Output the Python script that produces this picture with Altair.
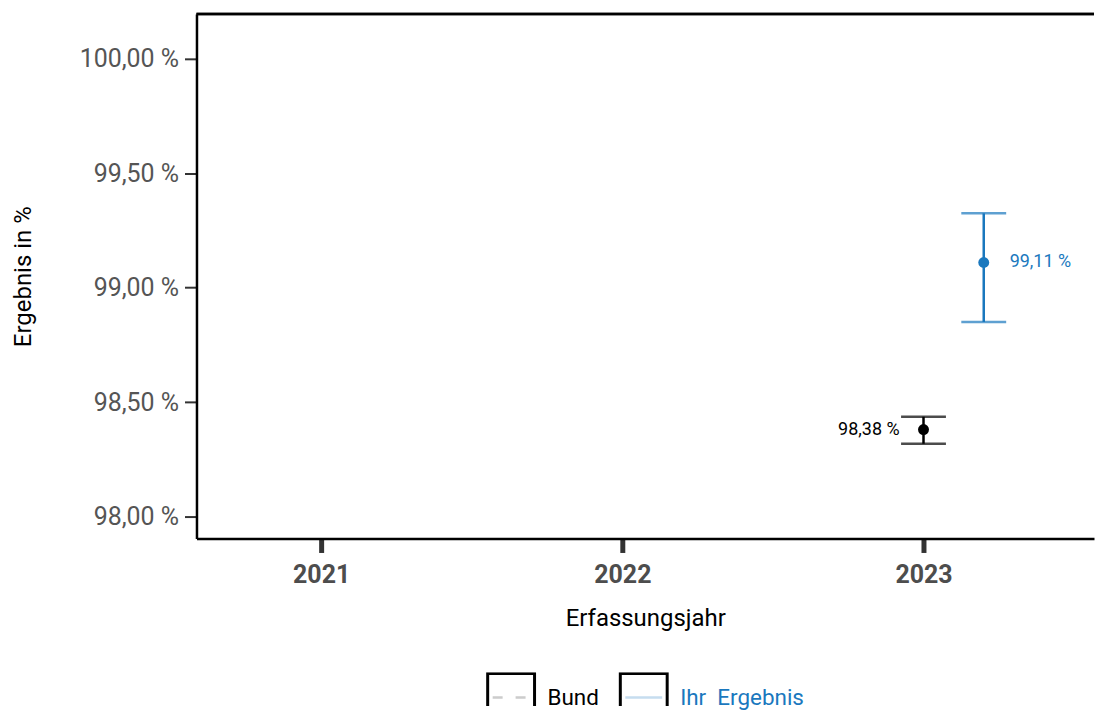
import altair as alt
import pandas as pd

# ---- data ----
series = ["Bund", "Ihr Ergebnis"]
years = [2023, 2023]
values = [98.38, 99.11]
lower = [98.318, 98.850]
upper = [98.436, 99.325]
series_colors = ["#000000", "#1a78be"]

legend_labels = ["Bund", "Ihr\u00a0 Ergebnis"]
legend_line_colors = ["#cccccc", "#c6ddef"]
legend_label_colors = ["#000000", "#1a78be"]

y_ticks = [98.0, 98.5, 99.0, 99.5, 100.0]
x_ticks = [2021, 2022, 2023]

W, H = 900, 526
FONT = "Roboto"

df = pd.DataFrame({"series": series, "year": years, "value": values,
                   "lower": lower, "upper": upper})
df["label"] = [f"{v:.2f}".replace(".", ",") + " %" for v in values]

base = alt.Chart(df).transform_calculate(
    xpos="datum.year + (datum.series === 'Ihr Ergebnis' ? 0.2 : 0)"
)

x_enc = alt.X("xpos:Q",
              scale=alt.Scale(domain=[2020.586, 2020.586 + W / 302.0], nice=False, zero=False),
              axis=alt.Axis(values=x_ticks, format="d", title="Erfassungsjahr",
                            labelFontSize=25, labelFontWeight="bold", labelColor="#4d4d4d",
                            labelFont=FONT, labelPadding=10,
                            tickSize=14, tickWidth=5, tickColor="#333333",
                            domainColor="#000000", domainWidth=2.5,
                            titleFont=FONT, titleFontSize=24, titleFontWeight="normal",
                            titleColor="#000000", titlePadding=19, grid=False))
y_scale = alt.Scale(domain=[97.904, 100.196], nice=False, zero=False)
y_axis = alt.Axis(values=y_ticks,
                  labelExpr="replace(format(datum.value, '.2f'), '.', ',') + ' %'",
                  title="Ergebnis in %", labelFontSize=25, labelColor="#555555",
                  labelFont=FONT, labelPadding=6, tickSize=12, tickWidth=2,
                  tickColor="#333333", domainColor="#000000", domainWidth=2.5,
                  titleFont=FONT, titleFontSize=24, titleFontWeight="normal",
                  titleColor="#000000", titlePadding=44, grid=False)
color = alt.Color("series:N", scale=alt.Scale(domain=series, range=series_colors), legend=None)

top_border = alt.Chart(df).mark_rule(color="#000000", strokeWidth=2.5).encode(y=alt.value(0))

bars = base.mark_rule(strokeWidth=2.5).encode(
    x=x_enc, y=alt.Y("lower:Q", scale=y_scale, axis=y_axis), y2="upper:Q", color=color)
cap_lo = base.mark_tick(orient="horizontal", size=45, thickness=2.5).encode(
    x=x_enc, y=alt.Y("lower:Q", scale=y_scale, axis=y_axis), color=color)
cap_hi = base.mark_tick(orient="horizontal", size=45, thickness=2.5).encode(
    x=x_enc, y=alt.Y("upper:Q", scale=y_scale, axis=y_axis), color=color)
pts = base.mark_circle(size=120, opacity=1).encode(
    x=x_enc, y=alt.Y("value:Q", scale=y_scale, axis=y_axis), color=color)
txt_bund = base.transform_filter("datum.series === 'Bund'").mark_text(
    align="right", baseline="middle", dx=-24, fontSize=18, font=FONT).encode(
    x=x_enc, y=alt.Y("value:Q", scale=y_scale, axis=y_axis), text="label:N", color=color)
txt_ihr = base.transform_filter("datum.series === 'Ihr Ergebnis'").mark_text(
    align="left", baseline="middle", dx=26, fontSize=18, font=FONT).encode(
    x=x_enc, y=alt.Y("value:Q", scale=y_scale, axis=y_axis), text="label:N", color=color)

main = alt.layer(top_border, bars, cap_lo, cap_hi, pts, txt_bund, txt_ihr).properties(
    width=W, height=H)

# ---- manual legend panel ----
ldf = pd.DataFrame({"label": legend_labels, "line": legend_line_colors,
                    "lcol": legend_label_colors, "idx": [0, 1]})
lbase = alt.Chart(ldf).transform_calculate(
    bx="292 + datum.idx * 133", bx2="292 + datum.idx * 133 + 47",
    lx1="292 + datum.idx * 133 + 5", lx2="292 + datum.idx * 133 + 42",
    tx="292 + datum.idx * 133 + 60", ytop="0.956", ybot="-2", ymid="0.25")
lx = alt.Scale(domain=[0, W], nice=False, zero=False)
ly = alt.Scale(domain=[0, 1], nice=False, zero=False)
boxes = lbase.mark_rect(filled=False, stroke="#000000", strokeWidth=3, clip=True).encode(
    x=alt.X("bx:Q", scale=lx, axis=None), x2="bx2:Q",
    y=alt.Y("ytop:Q", scale=ly, axis=None), y2="ybot:Q")
line_b = lbase.transform_filter("datum.idx === 0").mark_rule(
    strokeWidth=2.5, strokeDash=[10, 13]).encode(
    x=alt.X("lx1:Q", scale=lx, axis=None), x2="lx2:Q",
    y=alt.Y("ymid:Q", scale=ly, axis=None),
    color=alt.Color("line:N", scale=None))
line_i = lbase.transform_filter("datum.idx === 1").mark_rule(strokeWidth=2.5).encode(
    x=alt.X("lx1:Q", scale=lx, axis=None), x2="lx2:Q",
    y=alt.Y("ymid:Q", scale=ly, axis=None),
    color=alt.Color("line:N", scale=None))
ltext = lbase.mark_text(align="left", baseline="middle", fontSize=22.5, font=FONT).encode(
    x=alt.X("tx:Q", scale=lx, axis=None), y=alt.Y("ymid:Q", scale=ly, axis=None),
    text="label:N", color=alt.Color("lcol:N", scale=None))
legend_panel = alt.layer(boxes, line_b, line_i, ltext).properties(width=W, height=34)

chart = alt.vconcat(main, legend_panel, spacing=42).properties(
    padding={"left": 3, "top": 3, "right": 0, "bottom": 0}
).configure(font=FONT).configure_view(strokeWidth=0, stroke="transparent")

chart.save("out.html", embed_options={"renderer": "svg", "actions": False})
